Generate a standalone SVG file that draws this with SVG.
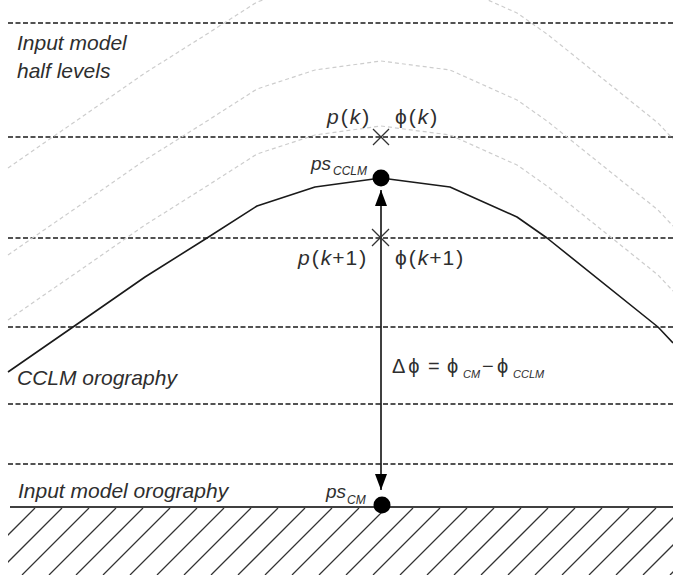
<svg xmlns="http://www.w3.org/2000/svg" width="673" height="575" viewBox="0 0 673 575">
<style>
.lvl{stroke:#1a1a1a;stroke-width:1.3;stroke-dasharray:5 2.5;fill:none}
.gray{stroke:#cdcdcd;stroke-width:1.2;stroke-dasharray:4 3;fill:none;stroke-linejoin:round}
.oro{stroke:#1a1a1a;stroke-width:1.6;fill:none;stroke-linejoin:round}
.cross{stroke:#333;stroke-width:1.2}
.lbl{font-family:"Liberation Sans",Arial,sans-serif;font-style:italic;font-size:21px;fill:#2e2e2e}
.math{font-family:"Liberation Sans",Arial,sans-serif;font-size:21px;fill:#2e2e2e}
.it{font-style:italic}
.sub{font-family:"Liberation Sans",Arial,sans-serif;font-style:italic;font-size:11px;fill:#2e2e2e}
.dot{fill:#000}
.arrow{stroke:#000;stroke-width:1.5;fill:none;marker-start:url(#ah);marker-end:url(#ah)}
</style>
<defs>
<marker id="ah" viewBox="0 0 16 12" refX="16" refY="6" markerWidth="16" markerHeight="12" markerUnits="userSpaceOnUse" orient="auto-start-reverse">
<path d="M0,0 L16,6 L0,12 z" fill="#000"/>
</marker>
<polyline id="oroLine" points="8,372 73,327 145,277 207,238 257,206 315,187 381,178 450,187 517,217 547,238 658,327 673,343"/>
<clipPath id="hclip"><rect x="8" y="508" width="665" height="67"/></clipPath>
</defs>
<rect width="673" height="575" fill="#fff"/>

<g id="half-levels">
<line class="lvl" x1="8" y1="23" x2="673" y2="23"/>
<line class="lvl" x1="8" y1="137" x2="673" y2="137"/>
<line class="lvl" x1="8" y1="238" x2="673" y2="238"/>
<line class="lvl" x1="8" y1="327" x2="673" y2="327"/>
<line class="lvl" x1="8" y1="404" x2="673" y2="404"/>
<line class="lvl" x1="8" y1="464" x2="673" y2="464"/>
</g>

<g id="cclm-levels">
<use href="#oroLine" class="gray" transform="translate(0,-52)"/>
<use href="#oroLine" class="gray" transform="translate(0,-117)"/>
<use href="#oroLine" class="gray" transform="translate(0,-204)"/>
</g>

<g id="cclm-orography">
<use href="#oroLine" class="oro"/>
</g>

<g id="input-orography">
<path clip-path="url(#hclip)" stroke="#333" stroke-width="1.3" fill="none" d="M35 508L-32 575M62 508L-5 575M89 508L22 575M116 508L49 575M143 508L76 575M170 508L103 575M197 508L130 575M224 508L157 575M251 508L184 575M278 508L211 575M305 508L238 575M332 508L265 575M359 508L292 575M386 508L319 575M413 508L346 575M440 508L373 575M467 508L400 575M494 508L427 575M521 508L454 575M548 508L481 575M575 508L508 575M602 508L535 575M629 508L562 575M656 508L589 575M683 508L616 575M710 508L643 575M737 508L670 575"/>
<line x1="10" y1="507" x2="673" y2="507" stroke="#000" stroke-width="1.6"/>
</g>

<g id="connectors">
<line class="arrow" x1="381" y1="490" x2="381" y2="190"/>
</g>

<g id="level-k">
<line class="cross" x1="373" y1="129" x2="389" y2="145"/>
<line class="cross" x1="373" y1="145" x2="389" y2="129"/>
<text class="math" x="327" y="124"><tspan class="it">p</tspan><tspan dx="2">(</tspan><tspan dx="2" class="it">k</tspan><tspan dx="2">)</tspan></text>
<text class="math" x="395" y="124">ϕ<tspan dx="2">(</tspan><tspan dx="2" class="it">k</tspan><tspan dx="2">)</tspan></text>
</g>

<g id="level-k1">
<line class="cross" x1="372" y1="229" x2="389" y2="246"/>
<line class="cross" x1="372" y1="246" x2="389" y2="229"/>
<text class="math" x="298" y="265"><tspan class="it">p</tspan><tspan dx="2">(</tspan><tspan dx="2" class="it">k</tspan><tspan dx="1">+</tspan><tspan dx="1">1</tspan><tspan dx="2">)</tspan></text>
<text class="math" x="395" y="265">ϕ<tspan dx="2">(</tspan><tspan dx="2" class="it">k</tspan><tspan dx="1">+</tspan><tspan dx="1">1</tspan><tspan dx="2">)</tspan></text>
</g>

<g id="ps-cclm">
<circle class="dot" cx="381" cy="178" r="8.5"/>
<text class="lbl" x="311" y="170" style="font-size:19px">ps</text>
<text class="sub" x="333" y="175" style="font-size:12px">CCLM</text>
</g>

<g id="ps-cm">
<circle class="dot" cx="382" cy="505" r="8.5"/>
<text class="lbl" x="326" y="498" style="font-size:19px">ps</text>
<text class="sub" x="347" y="504" style="font-size:12px">CM</text>
</g>

<g id="delta-phi">
<text class="math" x="392" y="373" style="font-size:20px">Δ<tspan dx="3">ϕ</tspan></text>
<text class="math" x="428" y="373" style="font-size:20px">=</text>
<text class="math" x="447" y="373" style="font-size:20px">ϕ</text>
<text class="sub" x="463" y="378">CM</text>
<text class="math" x="482" y="373" style="font-size:20px">−</text>
<text class="math" x="497" y="373" style="font-size:20px">ϕ</text>
<text class="sub" x="513" y="378">CCLM</text>
</g>

<g id="labels">
<text class="lbl" x="17" y="50">Input model</text>
<text class="lbl" x="17" y="78">half levels</text>
<text class="lbl" x="17" y="385">CCLM orography</text>
<text class="lbl" x="18" y="498">Input model orography</text>
</g>
</svg>
